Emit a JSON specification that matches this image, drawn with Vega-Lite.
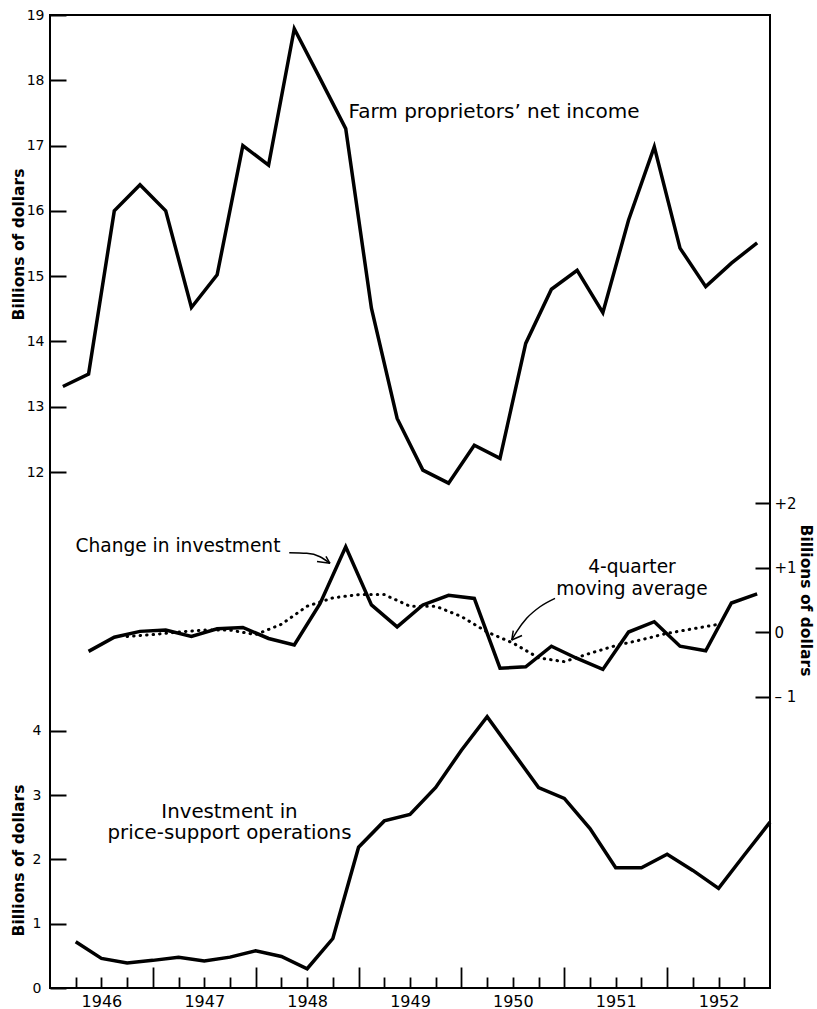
{
  "$schema": "https://vega.github.io/schema/vega-lite/v6.json",
  "width": 720,
  "height": 973,
  "autosize": {"type": "none"},
  "padding": {"left": 50, "top": 15, "right": 47, "bottom": 21},
  "background": "white",
  "config": {
    "view": {"stroke": "black", "strokeWidth": 2},
    "axis": {"domain": false, "grid": false, "labelFont": "DejaVu Sans", "labelColor": "black", "titleFont": "DejaVu Sans", "titleColor": "black", "tickColor": "black", "tickWidth": 2},
    "text": {"font": "DejaVu Sans", "color": "black"}
  },
  "datasets": {
    "income": [
      {"t": 1946.125, "v": 13.31}, {"t": 1946.375, "v": 13.50}, {"t": 1946.625, "v": 16.00}, {"t": 1946.875, "v": 16.40},
      {"t": 1947.125, "v": 16.00}, {"t": 1947.375, "v": 14.52}, {"t": 1947.625, "v": 15.02}, {"t": 1947.875, "v": 17.00},
      {"t": 1948.125, "v": 16.70}, {"t": 1948.375, "v": 18.79}, {"t": 1948.625, "v": 18.03}, {"t": 1948.875, "v": 17.26},
      {"t": 1949.125, "v": 14.51}, {"t": 1949.375, "v": 12.82}, {"t": 1949.625, "v": 12.03}, {"t": 1949.875, "v": 11.83},
      {"t": 1950.125, "v": 12.41}, {"t": 1950.375, "v": 12.21}, {"t": 1950.625, "v": 13.97}, {"t": 1950.875, "v": 14.80},
      {"t": 1951.125, "v": 15.09}, {"t": 1951.375, "v": 14.44}, {"t": 1951.625, "v": 15.86}, {"t": 1951.875, "v": 16.98},
      {"t": 1952.125, "v": 15.43}, {"t": 1952.375, "v": 14.84}, {"t": 1952.625, "v": 15.20}, {"t": 1952.875, "v": 15.51}
    ],
    "change": [
      {"t": 1946.375, "v": -0.30}, {"t": 1946.625, "v": -0.08}, {"t": 1946.875, "v": 0.01},
      {"t": 1947.125, "v": 0.03}, {"t": 1947.375, "v": -0.07}, {"t": 1947.625, "v": 0.05}, {"t": 1947.875, "v": 0.07},
      {"t": 1948.125, "v": -0.10}, {"t": 1948.375, "v": -0.20}, {"t": 1948.625, "v": 0.44}, {"t": 1948.875, "v": 1.32},
      {"t": 1949.125, "v": 0.42}, {"t": 1949.375, "v": 0.08}, {"t": 1949.625, "v": 0.42}, {"t": 1949.875, "v": 0.57},
      {"t": 1950.125, "v": 0.52}, {"t": 1950.375, "v": -0.56}, {"t": 1950.625, "v": -0.54}, {"t": 1950.875, "v": -0.22},
      {"t": 1951.125, "v": -0.41}, {"t": 1951.375, "v": -0.58}, {"t": 1951.625, "v": 0.00}, {"t": 1951.875, "v": 0.16},
      {"t": 1952.125, "v": -0.22}, {"t": 1952.375, "v": -0.29}, {"t": 1952.625, "v": 0.45}, {"t": 1952.875, "v": 0.59}
    ],
    "ma": [
      {"t": 1946.75, "v": -0.07}, {"t": 1947.0, "v": -0.04}, {"t": 1947.25, "v": 0.0}, {"t": 1947.5, "v": 0.03},
      {"t": 1947.75, "v": 0.03}, {"t": 1948.0, "v": -0.04}, {"t": 1948.25, "v": 0.12}, {"t": 1948.5, "v": 0.40},
      {"t": 1948.75, "v": 0.53}, {"t": 1949.0, "v": 0.58}, {"t": 1949.25, "v": 0.58}, {"t": 1949.5, "v": 0.40},
      {"t": 1949.75, "v": 0.40}, {"t": 1950.0, "v": 0.24}, {"t": 1950.25, "v": 0.0}, {"t": 1950.5, "v": -0.17},
      {"t": 1950.75, "v": -0.40}, {"t": 1951.0, "v": -0.46}, {"t": 1951.25, "v": -0.33}, {"t": 1951.5, "v": -0.21},
      {"t": 1951.75, "v": -0.12}, {"t": 1952.0, "v": -0.02}, {"t": 1952.25, "v": 0.05}, {"t": 1952.5, "v": 0.12}
    ],
    "invest": [
      {"t": 1946.25, "v": 0.72}, {"t": 1946.5, "v": 0.46}, {"t": 1946.75, "v": 0.39}, {"t": 1947.0, "v": 0.43},
      {"t": 1947.25, "v": 0.48}, {"t": 1947.5, "v": 0.42}, {"t": 1947.75, "v": 0.48}, {"t": 1948.0, "v": 0.58},
      {"t": 1948.25, "v": 0.49}, {"t": 1948.5, "v": 0.30}, {"t": 1948.75, "v": 0.77}, {"t": 1949.0, "v": 2.19},
      {"t": 1949.25, "v": 2.60}, {"t": 1949.5, "v": 2.70}, {"t": 1949.75, "v": 3.12}, {"t": 1950.0, "v": 3.70},
      {"t": 1950.25, "v": 4.22}, {"t": 1950.5, "v": 3.67}, {"t": 1950.75, "v": 3.12}, {"t": 1951.0, "v": 2.95},
      {"t": 1951.25, "v": 2.48}, {"t": 1951.5, "v": 1.87}, {"t": 1951.75, "v": 1.87}, {"t": 1952.0, "v": 2.08},
      {"t": 1952.25, "v": 1.83}, {"t": 1952.5, "v": 1.55}, {"t": 1952.75, "v": 2.07}, {"t": 1953.0, "v": 2.58}
    ],
    "topNote": [{"label": "Farm proprietors\u2019 net income", "t": 1950.317, "v": 17.42}],
    "midNote": [
      {"label": "Change in investment", "t": 1947.244, "v": 1.24},
      {"label": "4-quarter", "t": 1951.658, "v": 0.915},
      {"label": "moving average", "t": 1951.658, "v": 0.574}
    ],
    "botNote": [
      {"label": "Investment in", "t": 1947.745, "v": 2.641},
      {"label": "price-support operations", "t": 1947.745, "v": 2.314}
    ],
    "arrows": [
      {"a": "c", "t": 1948.326, "v": 1.229}, {"a": "c", "t": 1948.496, "v": 1.220}, {"a": "c", "t": 1948.625, "v": 1.167}, {"a": "c", "t": 1948.722, "v": 1.065},
      {"a": "m", "t": 1950.910, "v": 0.522}, {"a": "m", "t": 1950.764, "v": 0.392}, {"a": "m", "t": 1950.634, "v": 0.212}, {"a": "m", "t": 1950.537, "v": 0.005}, {"a": "m", "t": 1950.489, "v": -0.124}
    ],
    "barbs": [
      {"t": 1948.722, "v": 1.065, "t2": 1948.596, "v2": 1.093},
      {"t": 1948.722, "v": 1.065, "t2": 1948.683, "v2": 1.171},
      {"t": 1950.489, "v": -0.124, "t2": 1950.504, "v2": 0.023},
      {"t": 1950.489, "v": -0.124, "t2": 1950.589, "v2": -0.054}
    ]
  },
  "layer": [
    {
      "data": {"name": "income"},
      "mark": {"type": "line", "color": "black", "strokeWidth": 3.5},
      "encoding": {
        "x": {"field": "t", "type": "quantitative", "scale": {"domain": [1946, 1953], "nice": false, "zero": false},
              "axis": {"orient": "bottom", "values": [1946.5, 1947.5, 1948.5, 1949.5, 1950.5, 1951.5, 1952.5], "ticks": false, "labelPadding": 5, "labelFontSize": 16, "labelExpr": "floor(datum.value)", "title": null}},
        "y": {"field": "v", "type": "quantitative", "scale": {"domain": [4.098, 19], "nice": false, "zero": false},
              "axis": {"orient": "left", "values": [12, 13, 14, 15, 16, 17, 18, 19], "ticks": false, "labelPadding": 6, "labelFontSize": 14, "title": "Billions of dollars", "titleFontSize": 15.5, "titleFontWeight": "bold", "titleX": -32, "titleY": 229, "titleAngle": -90, "titleAlign": "center", "titleBaseline": "middle"}}
      }
    },
    {
      "data": {"name": "topNote"},
      "mark": {"type": "text", "fontSize": 20, "align": "center", "baseline": "alphabetic"},
      "encoding": {
        "x": {"field": "t", "type": "quantitative", "scale": {"domain": [1946, 1953], "nice": false, "zero": false}, "axis": null},
        "y": {"field": "v", "type": "quantitative", "scale": {"domain": [4.098, 19], "nice": false, "zero": false},
              "axis": {"orient": "left", "values": [12, 13, 14, 15, 16, 17, 18, 19], "labels": false, "tickSize": -16, "title": null}},
        "text": {"field": "label"}
      }
    },
    {
      "data": {"name": "change"},
      "mark": {"type": "line", "color": "black", "strokeWidth": 3.5},
      "encoding": {
        "x": {"field": "t", "type": "quantitative", "scale": {"domain": [1946, 1953], "nice": false, "zero": false},
              "axis": {"orient": "bottom", "values": [1946.25, 1946.5, 1946.75, 1947.25, 1947.5, 1947.75, 1948.25, 1948.5, 1948.75, 1949.25, 1949.5, 1949.75, 1950.25, 1950.5, 1950.75, 1951.25, 1951.5, 1951.75, 1952.25, 1952.5, 1952.75], "labels": false, "tickSize": -11, "tickWidth": 1.8, "title": null}},
        "y": {"field": "v", "type": "quantitative", "scale": {"domain": [-5.519, 9.566], "nice": false, "zero": false},
              "axis": {"orient": "right", "values": [-1, 0, 1, 2], "ticks": false, "labelPadding": 4, "labelFontSize": 15, "labelExpr": "datum.value > 0 ? '+' + datum.value : (datum.value < 0 ? '\u2013 ' + abs(datum.value) : '0')", "title": "Billions of dollars", "titleFontSize": 15.5, "titleFontWeight": "bold", "titleX": 35, "titleY": 585, "titleAngle": 90, "titleAlign": "center", "titleBaseline": "middle"}}
      }
    },
    {
      "data": {"name": "ma"},
      "mark": {"type": "line", "color": "black", "strokeWidth": 3, "strokeDash": [0.5, 6], "strokeCap": "round"},
      "encoding": {
        "x": {"field": "t", "type": "quantitative", "scale": {"domain": [1946, 1953], "nice": false, "zero": false},
              "axis": {"orient": "bottom", "values": [1947, 1948, 1949, 1950, 1951, 1952], "labels": false, "tickSize": -21, "tickWidth": 1.8, "title": null}},
        "y": {"field": "v", "type": "quantitative", "scale": {"domain": [-5.519, 9.566], "nice": false, "zero": false}, "axis": null}
      }
    },
    {
      "data": {"name": "midNote"},
      "mark": {"type": "text", "fontSize": 18.6, "align": "center", "baseline": "alphabetic"},
      "encoding": {
        "x": {"field": "t", "type": "quantitative", "scale": {"domain": [1946, 1953], "nice": false, "zero": false}, "axis": null},
        "y": {"field": "v", "type": "quantitative", "scale": {"domain": [-5.519, 9.566], "nice": false, "zero": false},
              "axis": {"orient": "right", "values": [-1, 0, 1, 2], "labels": false, "tickSize": -15, "title": null}},
        "text": {"field": "label"}
      }
    },
    {
      "data": {"name": "arrows"},
      "mark": {"type": "line", "color": "black", "strokeWidth": 1.5, "interpolate": "monotone"},
      "encoding": {
        "x": {"field": "t", "type": "quantitative", "scale": {"domain": [1946, 1953], "nice": false, "zero": false}, "axis": null},
        "y": {"field": "v", "type": "quantitative", "scale": {"domain": [-5.519, 9.566], "nice": false, "zero": false}, "axis": null},
        "detail": {"field": "a", "type": "nominal"}
      }
    },
    {
      "data": {"name": "barbs"},
      "mark": {"type": "rule", "color": "black", "strokeWidth": 1.5},
      "encoding": {
        "x": {"field": "t", "type": "quantitative", "scale": {"domain": [1946, 1953], "nice": false, "zero": false}, "axis": null},
        "x2": {"field": "t2"},
        "y": {"field": "v", "type": "quantitative", "scale": {"domain": [-5.519, 9.566], "nice": false, "zero": false}, "axis": null},
        "y2": {"field": "v2"}
      }
    },
    {
      "data": {"name": "invest"},
      "mark": {"type": "line", "color": "black", "strokeWidth": 3.5},
      "encoding": {
        "x": {"field": "t", "type": "quantitative", "scale": {"domain": [1946, 1953], "nice": false, "zero": false}, "axis": null},
        "y": {"field": "v", "type": "quantitative", "scale": {"domain": [0, 15.14], "nice": false, "zero": false},
              "axis": {"orient": "left", "values": [0, 1, 2, 3, 4], "ticks": false, "labelPadding": 9, "labelFontSize": 14, "title": "Billions of dollars", "titleFontSize": 15.5, "titleFontWeight": "bold", "titleX": -32, "titleY": 845, "titleAngle": -90, "titleAlign": "center", "titleBaseline": "middle"}}
      }
    },
    {
      "data": {"name": "botNote"},
      "mark": {"type": "text", "fontSize": 19.8, "align": "center", "baseline": "alphabetic"},
      "encoding": {
        "x": {"field": "t", "type": "quantitative", "scale": {"domain": [1946, 1953], "nice": false, "zero": false}, "axis": null},
        "y": {"field": "v", "type": "quantitative", "scale": {"domain": [0, 15.14], "nice": false, "zero": false},
              "axis": {"orient": "left", "values": [0, 1, 2, 3, 4], "labels": false, "tickSize": -16, "title": null}},
        "text": {"field": "label"}
      }
    }
  ],
  "resolve": {"scale": {"x": "independent", "y": "independent"}}
}
